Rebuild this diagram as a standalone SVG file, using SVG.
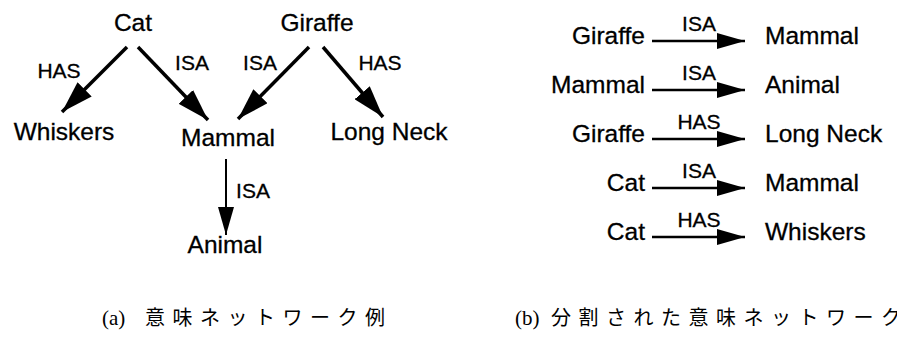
<svg xmlns="http://www.w3.org/2000/svg" width="897" height="342" viewBox="0 0 897 342">
  <style>
    .node { font-family: "Liberation Sans", Arial, sans-serif; font-size: 24.5px; fill: #000; stroke: #000; stroke-width: 0.3; }
    .lbl { font-family: "Liberation Sans", Arial, sans-serif; font-size: 21px; fill: #000; stroke: #000; stroke-width: 0.3; }
    .edge { stroke: #000; fill: none; }
    .thick { stroke-width: 3.5; marker-end: url(#headL); }
    .thin { stroke-width: 2.4; marker-end: url(#headS); }
    .cap { font-family: "Liberation Serif", "Times New Roman", serif; font-size: 21px; fill: #000; }
    .capj { font-family: "Noto Sans CJK JP", sans-serif; font-size: 20px; letter-spacing: 7.5px; fill: #000; }
  </style>
  <defs>
    <marker id="headL" markerUnits="userSpaceOnUse" markerWidth="32" markerHeight="20" refX="32" refY="10" orient="auto">
      <path d="M0,0 L32,10 L0,20 Z" fill="#000"/>
    </marker>
    <marker id="headS" markerUnits="userSpaceOnUse" markerWidth="28" markerHeight="16" refX="28" refY="8" orient="auto">
      <path d="M0,0 L28,8 L0,16 Z" fill="#000"/>
    </marker>
  </defs>
  <rect width="897" height="342" fill="#fff"/>

  <!-- (a) semantic network -->
  <g id="cat"><text class="node" x="133" y="31" text-anchor="middle">Cat</text></g>
  <g id="giraffe"><text class="node" x="317" y="31" text-anchor="middle">Giraffe</text></g>
  <g id="whiskers"><text class="node" x="64" y="140" text-anchor="middle">Whiskers</text></g>
  <g id="mammal"><text class="node" x="228" y="146" text-anchor="middle">Mammal</text></g>
  <g id="longneck"><text class="node" x="389" y="140" text-anchor="middle">Long Neck</text></g>
  <g id="animal"><text class="node" x="225" y="253" text-anchor="middle">Animal</text></g>

  <g id="connectors-a">
    <line class="edge thick" x1="127" y1="47" x2="62" y2="112"/>
    <line class="edge thick" x1="138" y1="47" x2="208" y2="120"/>
    <line class="edge thick" x1="309" y1="47" x2="238" y2="119"/>
    <line class="edge thick" x1="323" y1="47" x2="383" y2="117"/>
    <line class="edge" stroke-width="2" x1="226" y1="159" x2="226" y2="235" marker-end="url(#headS)"/>
    <text class="lbl" x="59" y="78" text-anchor="middle">HAS</text>
    <text class="lbl" x="192" y="70" text-anchor="middle">ISA</text>
    <text class="lbl" x="260" y="70" text-anchor="middle">ISA</text>
    <text class="lbl" x="380" y="70" text-anchor="middle">HAS</text>
    <text class="lbl" x="253" y="198" text-anchor="middle">ISA</text>
  </g>

  <!-- (b) split semantic network -->
  <g id="r1">
    <text class="node" x="645" y="44" text-anchor="end">Giraffe</text>
    <text class="node" x="765" y="44">Mammal</text>
  </g>
  <g id="r2">
    <text class="node" x="645" y="93" text-anchor="end">Mammal</text>
    <text class="node" x="765" y="93">Animal</text>
  </g>
  <g id="r3">
    <text class="node" x="645" y="142" text-anchor="end">Giraffe</text>
    <text class="node" x="765" y="142">Long Neck</text>
  </g>
  <g id="r4">
    <text class="node" x="645" y="191" text-anchor="end">Cat</text>
    <text class="node" x="765" y="191">Mammal</text>
  </g>
  <g id="r5">
    <text class="node" x="645" y="240" text-anchor="end">Cat</text>
    <text class="node" x="765" y="240">Whiskers</text>
  </g>

  <g id="connectors-b">
    <line class="edge thin" x1="652" y1="41" x2="745" y2="41"/>
    <line class="edge thin" x1="652" y1="90" x2="745" y2="90"/>
    <line class="edge thin" x1="652" y1="139" x2="745" y2="139"/>
    <line class="edge thin" x1="652" y1="188" x2="745" y2="188"/>
    <line class="edge thin" x1="652" y1="237" x2="745" y2="237"/>
    <text class="lbl" x="699" y="31" text-anchor="middle">ISA</text>
    <text class="lbl" x="699" y="80" text-anchor="middle">ISA</text>
    <text class="lbl" x="699" y="129" text-anchor="middle">HAS</text>
    <text class="lbl" x="699" y="178" text-anchor="middle">ISA</text>
    <text class="lbl" x="699" y="227" text-anchor="middle">HAS</text>
  </g>

  <!-- captions -->
  <text class="cap" x="102" y="325">(a)</text>
  <text class="capj" x="145" y="325">意味ネットワーク例</text>
  <text class="cap" x="515" y="325">(b)</text>
  <text class="capj" x="551" y="325">分割された意味ネットワーク</text>
</svg>
